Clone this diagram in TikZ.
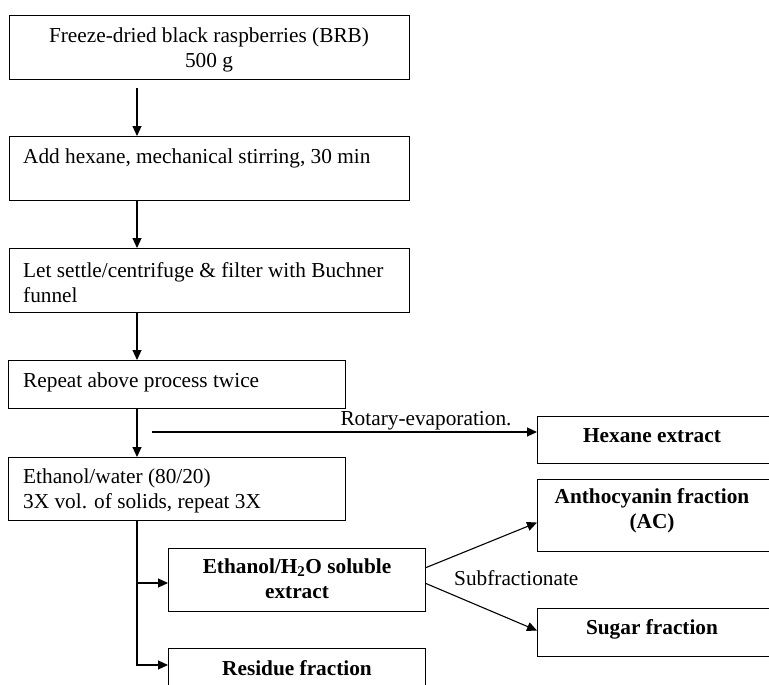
\documentclass[tikz,border=0pt]{standalone}
\usepackage{fontspec}
\setmainfont{Liberation Serif}
\usetikzlibrary{arrows.meta,calc}
\begin{document}
\begin{tikzpicture}[x=1pt,y=-1pt,
  box/.style={draw, line width=1.1pt, rectangle, inner sep=0pt, anchor=north west},
  txt/.style={inner sep=0pt, font=\fontsize{21.3}{25}\selectfont},
  ltxt/.style={txt, anchor=base west, align=left},
  ctxt/.style={txt, anchor=base, align=center},
  btxt/.style={ctxt, font=\fontsize{21.3}{25}\selectfont\bfseries},
  arr/.style={line width=1.1pt, -{Triangle[length=10pt,width=9pt]}},
  ln/.style={line width=1.1pt}]
% page area
\clip (0,0) rectangle (769,685);

% process boxes
\node[box, minimum width=400pt, minimum height=64pt] (b1) at (9,15) {};
\node[box, minimum width=400pt, minimum height=64pt] (b2) at (9,136) {};
\node[box, minimum width=400pt, minimum height=64pt] (b3) at (9,248) {};
\node[box, minimum width=337pt, minimum height=48pt] (b4) at (8,360) {};
\node[box, minimum width=337pt, minimum height=63pt] (b5) at (8,457) {};
% fraction boxes
\node[box, minimum width=231.5pt, minimum height=47pt] (hex) at (537,416) {};
\node[box, minimum width=231.5pt, minimum height=72pt] (anth) at (537,479) {};
\node[box, minimum width=257pt, minimum height=63pt] (eth) at (168,548) {};
\node[box, minimum width=231.5pt, minimum height=48pt] (sug) at (537,608) {};
\node[box, minimum width=257pt, minimum height=60pt] (res) at (168,648) {};

% box texts (multi-line texts are placed by the baseline of their last line)
\node[ctxt] (t1) at (209,68) {Freeze-dried black raspberries (BRB)\\500 g};
\node[ltxt] (t2) at (23,163) {Add hexane, mechanical stirring, 30 min};
\node[ltxt] (t3) at (23,302) {Let settle/centrifuge \& filter with Buchner\\funnel};
\node[ltxt] (t4) at (23,387) {Repeat above process twice};
\node[ltxt] (t5) at (23,508) {Ethanol/water (80/20)\\3X vol. of solids, repeat 3X};
\node[btxt] (th) at (652,442) {Hexane extract};
\node[btxt] (ta) at (652,528) {Anthocyanin fraction\\(AC)};
\node[btxt] (te) at (297,598) {Ethanol/H\textsubscript{2}O soluble\\extract};
\node[btxt] (ts) at (652,634) {Sugar fraction};
\node[btxt] (tr) at (297,675) {Residue fraction};

% connector labels
\node[txt, anchor=base] (lrot) at (426,425) {Rotary-evaporation.};
\node[txt, anchor=base west] (lsub) at (454,585) {Subfractionate};

% main column
\coordinate (spine) at (137,0);
\draw[arr, shorten <=8pt] (b1.south -| spine) -- (b2.north -| spine);
\draw[arr] (b2.south -| spine) -- (b3.north -| spine);
\draw[arr] (b3.south -| spine) -- (b4.north -| spine);
\draw[arr] (b4.south -| spine) -- (b5.north -| spine);

% hexane side stream
\coordinate (rs) at (152,432);
\draw[arr] (rs) -- (rs -| hex.west);

% ethanol/water split
\coordinate (j1) at (137,583);
\coordinate (j2) at (137,665);
\draw[arr] (b5.south -| spine) -- (j2) -- (j2 -| res.west);
\draw[arr] (j1) -- (j1 -| eth.west);

% subfractionation
\draw[arr] ($(eth.east)+(0,-12.5)$) -- ($(anth.west)+(0,7)$);
\draw[arr] ($(eth.east)+(0,3.5)$) -- ($(sug.west)+(0,-2)$);
\end{tikzpicture}
\end{document}
